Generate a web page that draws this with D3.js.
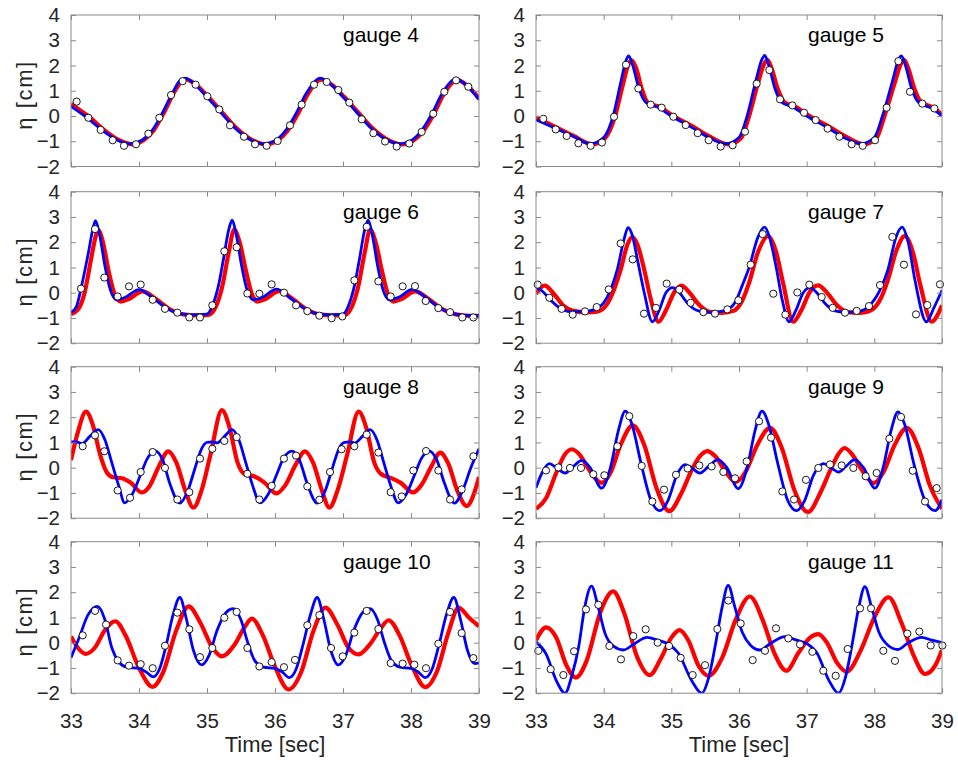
<!DOCTYPE html>
<html><head><meta charset="utf-8">
<script src="https://cdn.jsdelivr.net/npm/d3@7"></script>
<style>
body{margin:0;background:#fff;}
svg{display:block;}
text{font-family:"Liberation Sans",Arial,Helvetica,sans-serif;}
</style>
</head><body>
<svg id="chart" width="958" height="760"></svg>
<script>
// ---------------- DATA ----------------
const gaugeNames = ["gauge 4","gauge 5","gauge 6","gauge 7","gauge 8","gauge 9","gauge 10","gauge 11"];
const xTicks = [33,34,35,36,37,38,39];
const yTicks = [-2,-1,0,1,2,3,4];
const xLabel = "Time [sec]";
const yLabel = "η [cm]";

// gauge 4
const g4Blue = [[33.0,0.38],[33.25,-0.1],[33.5,-0.65],[33.7,-0.98],[33.87,-1.1],[34.05,-0.95],[34.2,-0.55],[34.35,0.15],[34.5,0.95],[34.6,1.4],[34.68,1.5],[34.8,1.3],[35.0,0.75],[35.2,0.15],[35.4,-0.45],[35.6,-0.88],[35.83,-1.1],[36.0,-0.98],[36.15,-0.6],[36.3,0.05],[36.45,0.85],[36.58,1.35],[36.66,1.5],[36.8,1.3],[37.0,0.75],[37.2,0.15],[37.4,-0.45],[37.6,-0.88],[37.84,-1.1],[38.0,-0.98],[38.15,-0.6],[38.3,0.05],[38.45,0.85],[38.58,1.35],[38.66,1.48],[38.8,1.25],[39.0,0.65]];
const g4Red = [[33.0,0.48],[33.25,0.0],[33.5,-0.58],[33.7,-0.95],[33.9,-1.12],[34.07,-0.95],[34.22,-0.55],[34.37,0.15],[34.52,0.95],[34.62,1.35],[34.7,1.44],[34.82,1.28],[35.02,0.75],[35.22,0.15],[35.42,-0.45],[35.62,-0.88],[35.86,-1.12],[36.03,-0.98],[36.18,-0.6],[36.33,0.05],[36.48,0.85],[36.6,1.32],[36.68,1.44],[36.82,1.27],[37.02,0.75],[37.22,0.15],[37.42,-0.45],[37.62,-0.88],[37.87,-1.12],[38.03,-0.98],[38.18,-0.6],[38.33,0.05],[38.48,0.85],[38.6,1.3],[38.68,1.42],[38.82,1.22],[39.0,0.7]];
const g4Obs = [[33.083,0.57],[33.255,-0.07],[33.436,-0.55],[33.613,-0.96],[33.779,-1.18],[33.956,-1.12],[34.137,-0.70],[34.299,-0.07],[34.471,0.83],[34.642,1.38],[34.833,1.24],[35.005,0.78],[35.181,0.26],[35.338,-0.37],[35.544,-0.82],[35.706,-1.12],[35.877,-1.18],[36.039,-0.99],[36.221,-0.37],[36.392,0.45],[36.574,1.24],[36.760,1.35],[36.931,1.03],[37.093,0.53],[37.275,-0.13],[37.446,-0.68],[37.618,-1.01],[37.789,-1.21],[37.975,-1.09],[38.157,-0.63],[38.328,0.09],[38.490,0.96],[38.662,1.41],[38.843,1.16]];

// gauge 5
const g5Blue = [[33.0,-0.15],[33.3,-0.5],[33.55,-0.8],[33.8,-1.1],[34.0,-0.85],[34.14,0.0],[34.25,1.3],[34.33,2.2],[34.37,2.38],[34.43,2.0],[34.52,1.1],[34.62,0.55],[34.8,0.35],[35.0,0.0],[35.3,-0.45],[35.55,-0.85],[35.8,-1.1],[36.0,-0.85],[36.12,0.0],[36.25,1.4],[36.34,2.25],[36.38,2.4],[36.44,2.0],[36.53,1.1],[36.63,0.55],[36.8,0.35],[37.0,0.0],[37.3,-0.45],[37.55,-0.85],[37.8,-1.1],[38.0,-0.85],[38.12,0.0],[38.27,1.4],[38.36,2.25],[38.4,2.38],[38.46,2.0],[38.55,1.1],[38.65,0.55],[38.85,0.3],[39.0,0.0]];
const g5Red = [[33.0,-0.05],[33.3,-0.45],[33.55,-0.78],[33.83,-1.12],[34.02,-0.88],[34.17,0.0],[34.28,1.2],[34.36,2.0],[34.41,2.2],[34.48,1.9],[34.56,1.1],[34.66,0.5],[34.82,0.37],[35.02,0.02],[35.32,-0.42],[35.57,-0.82],[35.84,-1.12],[36.03,-0.88],[36.15,0.0],[36.28,1.3],[36.37,2.05],[36.42,2.22],[36.48,1.9],[36.57,1.1],[36.67,0.55],[36.83,0.37],[37.03,0.02],[37.33,-0.42],[37.58,-0.82],[37.84,-1.12],[38.03,-0.88],[38.15,0.0],[38.3,1.3],[38.39,2.05],[38.44,2.22],[38.5,1.9],[38.59,1.1],[38.69,0.55],[38.88,0.32],[39.0,0.05]];
const g5Obs = [[33.108,-0.11],[33.291,-0.53],[33.453,-0.79],[33.626,-1.08],[33.808,-1.18],[33.975,-1.05],[34.153,-0.03],[34.330,2.03],[34.512,1.09],[34.695,0.45],[34.857,0.33],[35.030,-0.03],[35.212,-0.36],[35.389,-0.68],[35.552,-0.96],[35.729,-1.21],[35.906,-1.16],[36.089,-0.62],[36.261,1.28],[36.448,1.82],[36.606,0.66],[36.788,0.42],[36.961,0.13],[37.133,-0.16],[37.310,-0.50],[37.483,-0.82],[37.665,-1.12],[37.828,-1.18],[38.010,-0.96],[38.182,0.33],[38.355,2.17],[38.527,0.96],[38.709,0.49],[38.887,0.30]];

// gauge 6
const g6Blue = [[33.0,-0.78],[33.08,-0.55],[33.15,0.2],[33.25,1.5],[33.32,2.5],[33.36,2.85],[33.42,2.3],[33.5,1.05],[33.58,0.1],[33.67,-0.28],[33.8,-0.18],[34.0,0.12],[34.2,-0.2],[34.4,-0.6],[34.6,-0.83],[34.8,-0.88],[35.0,-0.85],[35.09,-0.45],[35.17,0.3],[35.24,1.3],[35.32,2.5],[35.37,2.87],[35.43,2.3],[35.51,1.05],[35.59,0.1],[35.68,-0.28],[35.82,-0.18],[36.02,0.14],[36.22,-0.2],[36.42,-0.6],[36.62,-0.83],[36.82,-0.88],[37.0,-0.85],[37.09,-0.45],[37.17,0.3],[37.24,1.3],[37.32,2.5],[37.37,2.87],[37.43,2.3],[37.51,1.05],[37.59,0.1],[37.68,-0.28],[37.82,-0.18],[38.02,0.13],[38.22,-0.2],[38.42,-0.6],[38.62,-0.83],[38.8,-0.9],[39.0,-0.9]];
const g6Red = [[33.0,-0.85],[33.12,-0.6],[33.2,0.0],[33.3,1.4],[33.36,2.2],[33.4,2.48],[33.47,2.0],[33.55,0.9],[33.64,-0.05],[33.73,-0.35],[33.85,-0.25],[34.05,0.05],[34.25,-0.25],[34.45,-0.65],[34.65,-0.86],[34.85,-0.9],[35.02,-0.88],[35.13,-0.55],[35.22,0.2],[35.32,1.6],[35.4,2.5],[35.48,2.0],[35.57,0.9],[35.66,-0.05],[35.74,-0.35],[35.86,-0.25],[36.06,0.06],[36.26,-0.25],[36.46,-0.65],[36.66,-0.86],[36.86,-0.9],[37.03,-0.88],[37.13,-0.55],[37.22,0.2],[37.32,1.6],[37.4,2.5],[37.48,2.0],[37.57,0.9],[37.66,-0.05],[37.74,-0.35],[37.86,-0.25],[38.06,0.05],[38.26,-0.25],[38.46,-0.65],[38.66,-0.86],[38.86,-0.92],[39.0,-0.92]];
const g6Obs = [[33.147,0.16],[33.353,2.52],[33.490,0.60],[33.686,-0.15],[33.853,0.25],[34.025,0.32],[34.201,-0.28],[34.382,-0.64],[34.564,-0.79],[34.740,-0.98],[34.897,-0.98],[35.078,-0.50],[35.255,1.64],[35.436,1.80],[35.593,-0.03],[35.770,-0.04],[35.951,0.33],[36.132,0.00],[36.309,-0.50],[36.475,-0.73],[36.652,-0.91],[36.833,-1.01],[36.990,-0.94],[37.167,0.49],[37.348,2.61],[37.520,0.45],[37.701,-0.15],[37.877,0.25],[38.059,0.26],[38.216,-0.33],[38.402,-0.61],[38.574,-0.77],[38.755,-0.98],[38.917,-0.98]];

// gauge 7
const g7Blue = [[33.0,0.22],[33.1,0.05],[33.2,-0.25],[33.35,-0.6],[33.5,-0.75],[33.7,-0.75],[33.85,-0.68],[34.0,-0.4],[34.1,0.1],[34.2,0.9],[34.3,2.1],[34.36,2.58],[34.42,2.3],[34.5,1.3],[34.6,0.0],[34.72,-1.15],[34.82,-0.7],[34.92,0.0],[35.02,0.2],[35.12,0.0],[35.25,-0.45],[35.4,-0.72],[35.6,-0.78],[35.8,-0.7],[35.95,-0.35],[36.05,0.3],[36.15,1.0],[36.28,2.2],[36.38,2.6],[36.45,2.2],[36.55,1.0],[36.64,-0.3],[36.74,-1.15],[36.84,-0.7],[36.95,0.0],[37.05,0.2],[37.15,0.0],[37.28,-0.45],[37.42,-0.72],[37.6,-0.78],[37.8,-0.72],[37.95,-0.45],[38.1,0.2],[38.2,0.9],[38.32,2.2],[38.41,2.6],[38.5,2.0],[38.6,0.5],[38.77,-1.15],[38.88,-0.6],[39.0,0.1]];
const g7Red = [[33.0,-0.05],[33.07,0.2],[33.13,0.28],[33.25,0.0],[33.4,-0.5],[33.55,-0.72],[33.75,-0.78],[33.9,-0.75],[34.05,-0.45],[34.15,0.1],[34.25,0.9],[34.35,1.9],[34.42,2.2],[34.5,1.9],[34.6,0.9],[34.7,-0.3],[34.81,-1.15],[34.92,-0.7],[35.05,0.05],[35.15,0.28],[35.27,0.0],[35.4,-0.45],[35.55,-0.75],[35.75,-0.8],[35.92,-0.72],[36.05,-0.3],[36.15,0.4],[36.28,1.6],[36.43,2.24],[36.55,1.6],[36.65,0.4],[36.8,-1.15],[36.92,-0.7],[37.05,0.05],[37.17,0.29],[37.3,0.0],[37.45,-0.5],[37.6,-0.77],[37.8,-0.8],[37.95,-0.7],[38.1,-0.2],[38.2,0.5],[38.33,1.7],[38.45,2.24],[38.57,1.6],[38.68,0.3],[38.85,-1.15],[38.95,-0.8],[39.0,-0.5]];
const g7Obs = [[33.025,0.32],[33.197,-0.20],[33.379,-0.64],[33.542,-0.87],[33.724,-0.74],[33.897,-0.57],[34.074,0.13],[34.251,1.95],[34.429,1.32],[34.596,-0.83],[34.773,-0.60],[34.931,0.36],[35.118,0.12],[35.286,-0.40],[35.473,-0.77],[35.645,-0.83],[35.828,-0.66],[35.990,-0.30],[36.172,1.11],[36.350,2.32],[36.507,-0.04],[36.685,-0.87],[36.862,0.01],[37.039,0.32],[37.222,-0.17],[37.384,-0.60],[37.567,-0.79],[37.739,-0.72],[37.921,-0.53],[38.084,0.30],[38.266,2.21],[38.438,1.11],[38.616,-0.86],[38.783,-0.49],[38.970,0.33]];

// gauge 8
const g8Blue = [[33.0,1.02],[33.08,1.02],[33.16,0.95],[33.28,1.25],[33.4,1.51],[33.5,1.1],[33.6,0.2],[33.7,-0.7],[33.79,-1.39],[33.9,-1.05],[34.02,-0.3],[34.12,0.35],[34.24,0.66],[34.35,0.3],[34.45,-0.6],[34.6,-1.4],[34.72,-0.9],[34.82,-0.05],[34.92,0.75],[35.0,1.0],[35.08,1.02],[35.15,0.98],[35.26,1.25],[35.37,1.51],[35.47,1.1],[35.57,0.2],[35.67,-0.7],[35.78,-1.39],[35.9,-1.05],[36.02,-0.3],[36.12,0.35],[36.25,0.66],[36.36,0.3],[36.47,-0.6],[36.62,-1.4],[36.74,-0.9],[36.84,-0.05],[36.94,0.75],[37.02,1.0],[37.1,1.02],[37.17,0.98],[37.29,1.25],[37.4,1.51],[37.5,1.1],[37.6,0.2],[37.7,-0.7],[37.81,-1.39],[37.93,-1.05],[38.05,-0.3],[38.15,0.35],[38.27,0.66],[38.38,0.3],[38.49,-0.6],[38.64,-1.4],[38.76,-0.9],[38.88,0.0],[39.0,0.75]];
const g8Red = [[33.0,0.3],[33.1,1.4],[33.22,2.22],[33.32,1.7],[33.43,0.5],[33.53,-0.2],[33.62,-0.38],[33.75,-0.42],[33.88,-0.6],[34.04,-0.98],[34.15,-0.75],[34.3,0.1],[34.43,0.65],[34.55,0.2],[34.68,-0.9],[34.8,-1.58],[34.92,-0.9],[35.05,0.5],[35.22,2.28],[35.33,1.6],[35.45,0.2],[35.55,-0.25],[35.7,-0.35],[35.85,-0.6],[36.02,-1.02],[36.15,-0.7],[36.3,0.1],[36.44,0.65],[36.56,0.2],[36.69,-0.9],[36.8,-1.58],[36.92,-0.9],[37.06,0.5],[37.23,2.22],[37.34,1.6],[37.46,0.2],[37.56,-0.25],[37.7,-0.4],[37.85,-0.6],[38.03,-0.98],[38.15,-0.7],[38.3,0.05],[38.43,0.6],[38.55,0.15],[38.68,-0.9],[38.82,-1.52],[38.93,-1.0],[39.0,-0.37]];
const g8Obs = [[33.172,0.85],[33.353,1.28],[33.490,0.65],[33.686,-0.90],[33.868,-1.19],[34.025,-0.17],[34.201,0.62],[34.382,-0.01],[34.564,-1.26],[34.740,-0.97],[34.897,0.36],[35.078,0.75],[35.255,1.06],[35.436,1.21],[35.593,-0.24],[35.770,-1.26],[35.951,-0.72],[36.132,0.36],[36.309,0.48],[36.475,-0.74],[36.652,-1.27],[36.809,-0.17],[36.980,0.73],[37.167,0.85],[37.348,1.31],[37.520,0.60],[37.701,-0.97],[37.863,-1.14],[38.034,-0.11],[38.221,0.66],[38.402,-0.11],[38.574,-1.26],[38.745,-0.86],[38.917,0.45]];

// gauge 9
const g9Blue = [[33.0,-0.8],[33.08,-0.25],[33.2,0.16],[33.3,0.0],[33.43,-0.21],[33.55,0.05],[33.68,0.29],[33.8,0.0],[33.97,-0.81],[34.1,0.0],[34.22,1.5],[34.32,2.24],[34.42,1.7],[34.55,0.2],[34.7,-1.3],[34.83,-1.7],[34.95,-1.3],[35.08,-0.3],[35.2,0.12],[35.3,0.0],[35.42,-0.21],[35.55,0.05],[35.69,0.32],[35.82,0.0],[35.99,-0.83],[36.12,0.0],[36.24,1.5],[36.34,2.24],[36.44,1.7],[36.57,0.2],[36.72,-1.3],[36.85,-1.7],[36.97,-1.3],[37.1,-0.3],[37.25,0.16],[37.36,0.0],[37.47,-0.17],[37.58,0.05],[37.71,0.32],[37.84,0.0],[38.01,-0.81],[38.13,0.0],[38.25,1.5],[38.35,2.21],[38.45,1.7],[38.58,0.2],[38.75,-1.3],[38.9,-1.7],[39.0,-1.26]];
const g9Red = [[33.0,-1.63],[33.15,-1.2],[33.3,-0.2],[33.42,0.5],[33.53,0.73],[33.65,0.5],[33.8,-0.15],[33.97,-0.6],[34.1,-0.2],[34.25,0.9],[34.43,1.68],[34.6,0.9],[34.78,-0.8],[34.97,-1.72],[35.15,-1.0],[35.3,-0.1],[35.42,0.45],[35.53,0.66],[35.65,0.45],[35.8,-0.15],[35.95,-0.57],[36.1,-0.15],[36.27,0.9],[36.46,1.58],[36.63,0.8],[36.82,-0.9],[37.02,-1.76],[37.2,-1.0],[37.35,-0.1],[37.46,0.5],[37.56,0.78],[37.68,0.5],[37.83,-0.15],[37.99,-0.61],[38.13,-0.2],[38.3,0.9],[38.48,1.58],[38.65,0.8],[38.82,-0.7],[39.0,-1.63]];
const g9Obs = [[33.148,-0.11],[33.330,0.01],[33.502,-0.01],[33.665,-0.01],[33.847,-0.26],[34.010,-0.30],[34.202,0.85],[34.379,2.04],[34.562,0.07],[34.719,-1.34],[34.892,-0.87],[35.069,-0.28],[35.241,-0.03],[35.414,0.09],[35.596,0.05],[35.768,-0.17],[35.941,-0.42],[36.113,0.25],[36.296,1.84],[36.473,1.19],[36.640,-0.94],[36.813,-1.26],[36.990,-0.48],[37.172,-0.01],[37.345,0.13],[37.517,0.09],[37.690,-0.01],[37.872,-0.34],[38.034,-0.21],[38.222,1.15],[38.394,2.01],[38.567,-0.12],[38.749,-1.34],[38.921,-0.81]];

// gauge 10
const g10Blue = [[33.0,-0.6],[33.12,0.2],[33.25,1.1],[33.39,1.44],[33.5,0.9],[33.6,-0.2],[33.7,-0.75],[33.82,-0.97],[34.01,-1.03],[34.1,-1.15],[34.21,-1.35],[34.3,-1.05],[34.4,-0.1],[34.5,1.1],[34.6,1.79],[34.7,0.9],[34.8,-0.3],[34.92,-0.88],[35.03,-0.5],[35.15,0.5],[35.28,1.2],[35.39,1.35],[35.5,0.9],[35.6,0.0],[35.7,-0.7],[35.83,-0.97],[36.0,-1.02],[36.1,-1.15],[36.21,-1.38],[36.31,-1.05],[36.41,-0.1],[36.52,1.1],[36.62,1.79],[36.72,0.9],[36.82,-0.3],[36.93,-0.88],[37.04,-0.5],[37.16,0.5],[37.29,1.2],[37.4,1.35],[37.51,0.9],[37.61,0.0],[37.71,-0.7],[37.84,-0.97],[38.0,-1.02],[38.1,-1.15],[38.21,-1.38],[38.31,-1.05],[38.41,-0.1],[38.52,1.1],[38.63,1.79],[38.73,0.9],[38.83,-0.3],[38.94,-0.83],[39.0,-0.8]];
const g10Red = [[33.0,0.25],[33.1,-0.2],[33.22,-0.44],[33.35,-0.2],[33.5,0.5],[33.65,0.85],[33.8,0.3],[34.0,-1.0],[34.2,-1.75],[34.35,-1.2],[34.55,0.5],[34.73,1.44],[34.9,0.8],[35.08,-0.2],[35.22,-0.54],[35.4,-0.1],[35.55,0.6],[35.66,0.95],[35.82,0.3],[36.0,-0.95],[36.2,-1.85],[36.38,-1.2],[36.57,0.5],[36.74,1.39],[36.92,0.7],[37.08,-0.2],[37.23,-0.46],[37.4,-0.05],[37.55,0.55],[37.67,0.89],[37.83,0.3],[38.01,-0.9],[38.21,-1.76],[38.38,-1.15],[38.55,0.4],[38.7,1.39],[38.85,1.0],[39.0,0.65]];
const g10Obs = [[33.172,0.29],[33.353,1.26],[33.515,0.72],[33.686,-0.70],[33.853,-0.91],[34.025,-0.85],[34.201,-1.01],[34.382,-0.12],[34.564,1.19],[34.740,0.53],[34.897,-0.57],[35.078,-0.21],[35.255,0.99],[35.436,1.22],[35.593,-0.21],[35.770,-0.94],[35.951,-0.77],[36.132,-0.97],[36.294,-0.68],[36.475,0.69],[36.652,1.09],[36.824,-0.21],[36.995,-0.54],[37.167,0.40],[37.348,1.26],[37.520,0.54],[37.701,-0.81],[37.877,-0.83],[38.049,-0.87],[38.221,-1.01],[38.402,-0.04],[38.574,1.22],[38.745,0.38],[38.917,-0.61]];

// gauge 11
const g11Blue = [[33.0,0.03],[33.15,-0.45],[33.3,-1.5],[33.43,-2.0],[33.53,-1.3],[33.63,-0.17],[33.72,1.4],[33.82,2.24],[33.92,1.4],[34.02,0.37],[34.15,-0.15],[34.29,-0.29],[34.45,-0.05],[34.64,0.21],[34.8,0.1],[34.95,-0.05],[35.1,-0.4],[35.3,-1.5],[35.45,-2.0],[35.55,-1.4],[35.65,-0.1],[35.75,1.4],[35.84,2.27],[35.94,1.4],[36.05,0.4],[36.17,-0.1],[36.31,-0.29],[36.48,0.0],[36.68,0.24],[36.85,0.1],[37.0,-0.03],[37.15,-0.4],[37.33,-1.5],[37.47,-2.0],[37.57,-1.4],[37.67,-0.1],[37.77,1.4],[37.86,2.22],[37.96,1.4],[38.07,0.4],[38.2,-0.1],[38.35,-0.27],[38.5,0.0],[38.7,0.21],[38.85,0.1],[39.0,0.0]];
const g11Red = [[33.0,0.1],[33.15,0.61],[33.3,0.2],[33.45,-0.9],[33.59,-1.38],[33.75,-0.7],[33.95,1.2],[34.14,2.03],[34.3,1.2],[34.5,-0.6],[34.68,-1.28],[34.85,-0.6],[35.0,0.2],[35.12,0.5],[35.25,0.1],[35.4,-0.9],[35.55,-1.31],[35.75,-0.6],[35.95,0.9],[36.16,1.83],[36.35,0.9],[36.52,-0.4],[36.7,-1.11],[36.88,-0.4],[37.05,0.2],[37.17,0.34],[37.3,0.0],[37.45,-0.8],[37.59,-1.15],[37.8,-0.3],[38.0,1.0],[38.21,1.8],[38.4,0.8],[38.58,-0.5],[38.75,-1.24],[38.9,-0.9],[39.0,-0.29]];
const g11Obs = [[33.034,-0.32],[33.217,-1.05],[33.404,-1.28],[33.562,-0.34],[33.739,1.32],[33.921,1.50],[34.084,-0.13],[34.256,-0.66],[34.438,0.26],[34.621,0.53],[34.798,0.00],[34.966,-0.13],[35.138,-0.60],[35.315,-1.28],[35.498,-0.89],[35.680,0.54],[35.842,1.67],[36.025,0.76],[36.202,-0.69],[36.384,-0.32],[36.547,0.57],[36.729,0.17],[36.901,-0.07],[37.084,-0.36],[37.246,-1.11],[37.429,-1.31],[37.606,-0.25],[37.788,1.36],[37.951,1.36],[38.133,-0.32],[38.305,-0.72],[38.488,0.36],[38.665,0.44],[38.833,-0.11],[39.005,-0.11]];

// ---------------- LAYOUT ----------------
const panels = [
  {name: gaugeNames[0], blue: g4Blue,  red: g4Red,  obs: g4Obs,  col: 0, row: 0},
  {name: gaugeNames[1], blue: g5Blue,  red: g5Red,  obs: g5Obs,  col: 1, row: 0},
  {name: gaugeNames[2], blue: g6Blue,  red: g6Red,  obs: g6Obs,  col: 0, row: 1},
  {name: gaugeNames[3], blue: g7Blue,  red: g7Red,  obs: g7Obs,  col: 1, row: 1},
  {name: gaugeNames[4], blue: g8Blue,  red: g8Red,  obs: g8Obs,  col: 0, row: 2},
  {name: gaugeNames[5], blue: g9Blue,  red: g9Red,  obs: g9Obs,  col: 1, row: 2},
  {name: gaugeNames[6], blue: g10Blue, red: g10Red, obs: g10Obs, col: 0, row: 3},
  {name: gaugeNames[7], blue: g11Blue, red: g11Red, obs: g11Obs, col: 1, row: 3}
];
const colX = [[71, 479], [536, 942]];
const rowTop = [15, 191.7, 366.7, 541.7];
const panelH = 151.5;
const axisColor = "#8a8a8a";
const textColor = "#262626";
const tickFont = 20.5;

const svg = d3.select("#chart");
const defs = svg.append("defs");

panels.forEach((p, i) => {
  const x0 = colX[p.col][0], x1 = colX[p.col][1];
  const y0 = rowTop[p.row], y1 = y0 + panelH;
  const x = d3.scaleLinear().domain([33, 39]).range([x0, x1]);
  const y = d3.scaleLinear().domain([-2, 4]).range([y1, y0]);
  const g = svg.append("g");

  defs.append("clipPath").attr("id", "clip" + i)
    .append("rect").attr("x", x0).attr("y", y0).attr("width", x1 - x0).attr("height", y1 - y0);

  const line = d3.line().x(d => x(d[0])).y(d => y(d[1])).curve(d3.curveMonotoneX);
  const lines = g.append("g").attr("clip-path", "url(#clip" + i + ")");
  lines.append("path").attr("d", line(p.red)).attr("fill", "none")
    .attr("stroke", "#ff0000").attr("stroke-width", 4.2).attr("stroke-linejoin", "round");
  lines.append("path").attr("d", line(p.blue)).attr("fill", "none")
    .attr("stroke", "#0000ff").attr("stroke-width", 2.8).attr("stroke-linejoin", "round");

  g.append("g").selectAll("circle").data(p.obs).join("circle")
    .attr("cx", d => x(d[0])).attr("cy", d => y(d[1])).attr("r", 3.6)
    .attr("fill", "#fff").attr("stroke", "#000").attr("stroke-width", 0.9);

  // axes with inward ticks
  const showX = p.row === 3;
  const ax = [
    g.append("g").attr("transform", `translate(0,${y1})`)
      .call(d3.axisBottom(x).tickValues(xTicks).tickSizeInner(-5).tickSizeOuter(0).tickPadding(20)
        .tickFormat(showX ? d3.format("d") : () => "")),
    g.append("g").attr("transform", `translate(0,${y0})`)
      .call(d3.axisTop(x).tickValues(xTicks).tickSizeInner(-5).tickSizeOuter(0).tickFormat(() => "")),
    g.append("g").attr("transform", `translate(${x0},0)`)
      .call(d3.axisLeft(y).tickValues(yTicks).tickSizeInner(-5).tickSizeOuter(0).tickPadding(11)
        .tickFormat(d3.format("d"))),
    g.append("g").attr("transform", `translate(${x1},0)`)
      .call(d3.axisRight(y).tickValues(yTicks).tickSizeInner(-5).tickSizeOuter(0).tickFormat(() => ""))
  ];
  ax.forEach(a => {
    a.select(".domain").remove();
    a.selectAll(".tick line").attr("stroke", axisColor).attr("stroke-width", 1);
    a.selectAll(".tick text").attr("fill", textColor).style("font-size", tickFont + "px")
      .style("font-family", '"Liberation Sans", Arial, sans-serif');
  });

  g.append("rect").attr("x", x0).attr("y", y0).attr("width", x1 - x0).attr("height", y1 - y0)
    .attr("fill", "none").attr("stroke", axisColor).attr("stroke-width", 1);

  g.append("text").attr("x", x0 + 272).attr("y", y0 + 27)
    .attr("fill", "#000").style("font-size", "21px").text(p.name);

  if (p.col === 0) {
    g.append("text").attr("transform", `translate(32,${(y0 + y1) / 2 + 5}) rotate(-90)`)
      .attr("text-anchor", "middle").attr("fill", textColor).style("font-size", "22px")
      .attr("textLength", 68).attr("lengthAdjust", "spacing").text(yLabel);
  }
  if (showX) {
    g.append("text").attr("x", (x0 + x1) / 2).attr("y", 752).attr("text-anchor", "middle")
      .attr("fill", textColor).style("font-size", "22px").text(xLabel);
  }
});
</script>
</body></html>
